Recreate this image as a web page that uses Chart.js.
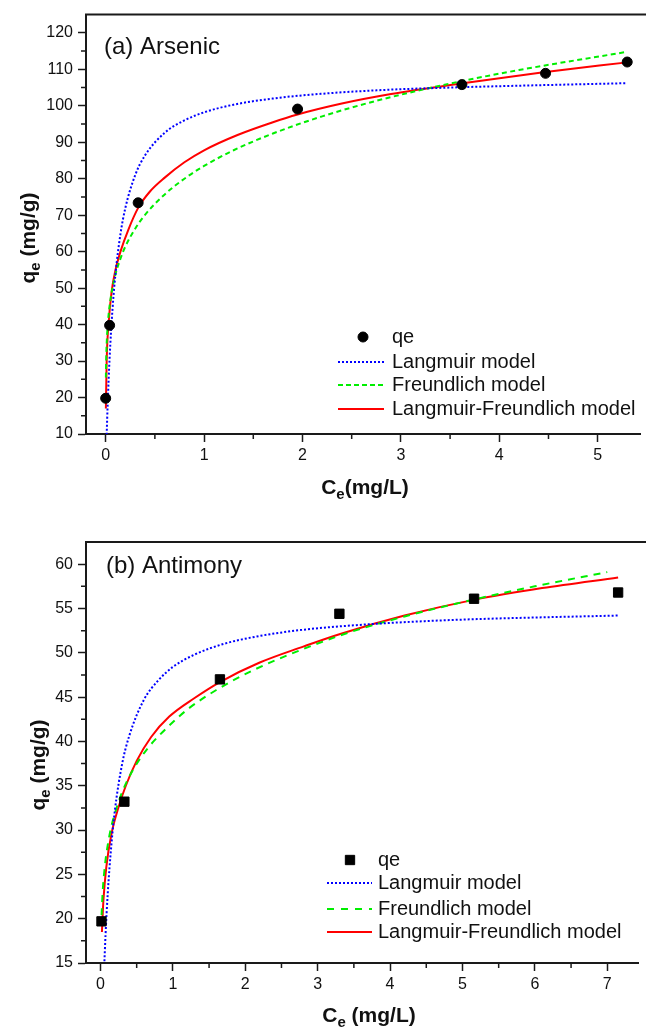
<!DOCTYPE html>
<html><head><meta charset="utf-8">
<script src="https://cdn.jsdelivr.net/npm/chart.js@4.4.1/dist/chart.umd.min.js"></script>
<style>
html,body{margin:0;padding:0;background:#fff;}
#wrap{position:relative;width:646px;height:1027px;overflow:hidden;background:#fff;}
canvas{position:absolute;left:0;}
</style></head><body>
<div id="wrap">
<canvas id="cA" width="646" height="510" style="top:0px"></canvas>
<canvas id="cB" width="646" height="517" style="top:510px"></canvas>
</div>
<script>
// ---------- (a) Arsenic ----------
const asCe = [0, 0.04, 0.33, 1.95, 3.62, 4.47, 5.3];
const asQe = [19.8, 39.8, 73.4, 99.1, 105.8, 108.9, 112.0];
const asLangC = [0.01, 0.02, 0.04, 0.07, 0.1, 0.15, 0.2, 0.3, 0.4, 0.6, 0.8, 1.0, 1.3, 1.7, 2.2, 2.8, 3.5, 4.2, 5.3];
const asLangQ = [9.8, 18.0, 30.9, 44.5, 54.0, 64.8, 72.0, 81.0, 86.4, 92.6, 96.0, 98.2, 100.3, 102.0, 103.3, 104.3, 105.0, 105.5, 106.2];
const asFreuC = [0.002, 0.005, 0.01, 0.02, 0.04, 0.07, 0.1, 0.15, 0.2, 0.3, 0.4, 0.6, 0.8, 1.0, 1.3, 1.7, 2.2, 2.8, 3.5, 4.2, 5.3];
const asFreuQ = [25.5, 30.4, 34.7, 39.6, 45.2, 50.2, 53.8, 58.1, 61.4, 66.3, 70.1, 75.7, 80.0, 83.5, 87.8, 92.4, 97.1, 101.7, 106.1, 109.8, 114.8];
const asLFC = [0.002, 0.01, 0.03, 0.06, 0.1, 0.15, 0.23, 0.33, 0.45, 0.6, 0.8, 1.0, 1.34, 1.7, 1.95, 2.4, 2.9, 3.61, 4.45, 5.3];
const asLFQ = [17, 30, 40.5, 49, 55, 60, 66, 72, 76.5, 80.3, 84.5, 87.8, 92, 95.5, 97.6, 100.6, 103.2, 106.1, 109.2, 111.9];
const asXTicks = [0, 1, 2, 3, 4, 5];
const asXMinor = [0.5, 1.5, 2.5, 3.5, 4.5];
const asYTicks = [10, 20, 30, 40, 50, 60, 70, 80, 90, 100, 110, 120];
const asYMinor = [15, 25, 35, 45, 55, 65, 75, 85, 95, 105, 115];

// ---------- (b) Antimony ----------
const sbCe = [0.014, 0.33, 1.65, 3.3, 5.16, 7.15];
const sbQe = [19.7, 33.2, 47.0, 54.4, 56.1, 56.8];
const sbLangC = [0.05, 0.07, 0.1, 0.15, 0.2, 0.3, 0.4, 0.6, 0.8, 1.0, 1.3, 1.7, 2.2, 2.8, 3.5, 4.3, 5.2, 6.1, 7.15];
const sbLangQ = [14.3, 18.2, 22.8, 28.3, 32.3, 37.5, 40.7, 44.7, 46.9, 48.4, 49.8, 51.0, 51.9, 52.6, 53.1, 53.5, 53.8, 54.0, 54.2];
const sbFreuC = [0.015, 0.03, 0.06, 0.1, 0.15, 0.2, 0.3, 0.45, 0.65, 0.9, 1.2, 1.6, 2.1, 2.7, 3.4, 4.2, 5.1, 6.0, 7.0];
const sbFreuQ = [20.4, 23.0, 25.9, 28.3, 30.4, 31.9, 34.3, 36.8, 39.2, 41.4, 43.6, 45.8, 48.0, 50.1, 52.2, 54.1, 55.9, 57.5, 59.1];
const sbLFC = [0.02, 0.04, 0.08, 0.15, 0.25, 0.35, 0.5, 0.7, 0.95, 1.3, 1.65, 2.2, 2.8, 3.3, 4.2, 5.17, 6.1, 7.15];
const sbLFQ = [18.5, 22.0, 25.8, 29.5, 32.6, 35.0, 37.8, 40.5, 42.8, 44.9, 46.7, 48.9, 50.7, 52.1, 54.2, 56.0, 57.3, 58.5];
const sbXTicks = [0, 1, 2, 3, 4, 5, 6, 7];
const sbXMinor = [0.5, 1.5, 2.5, 3.5, 4.5, 5.5, 6.5];
const sbYTicks = [15, 20, 25, 30, 35, 40, 45, 50, 55, 60];
const sbYMinor = [17.5, 22.5, 27.5, 32.5, 37.5, 42.5, 47.5, 52.5, 57.5];

const seriesLabels = ['qe', 'Langmuir model', 'Freundlich model', 'Langmuir-Freundlich model'];

// ---------- styling ----------
const FONT = '"Liberation Sans", Arial, Helvetica, sans-serif';
const AXIS = '#1a1a1a';
const TEXT = '#111111';
const BLUE = '#0000ff';
const GREEN = '#00ee00';
const RED = '#ff0000';

function pts(xs, ys) { return xs.map((x, i) => ({ x: x, y: ys[i] })); }

function drawSubText(ctx, main, sub, rest, cx, cy, rot, size) {
  const big = 'bold ' + size + 'px ' + FONT;
  const small = 'bold ' + Math.round(size * 0.72) + 'px ' + FONT;
  ctx.font = big;
  const w1 = ctx.measureText(main).width;
  const w3 = ctx.measureText(rest).width;
  ctx.font = small;
  const w2 = ctx.measureText(sub).width;
  const total = w1 + w2 + w3;
  ctx.save();
  ctx.translate(cx, cy);
  ctx.rotate(rot);
  ctx.textAlign = 'left';
  ctx.textBaseline = 'alphabetic';
  ctx.fillStyle = TEXT;
  const base = size * 0.36;
  let x = -total / 2;
  ctx.font = big; ctx.fillText(main, x, base); x += w1;
  ctx.font = small; ctx.fillText(sub, x, base + size * 0.28); x += w2;
  ctx.font = big; ctx.fillText(rest, x, base);
  ctx.restore();
}

function decoPlugin(o) {
  return {
    id: 'deco',
    afterDraw(chart) {
      const ctx = chart.ctx, a = chart.chartArea;
      const xs = chart.scales.x, ys = chart.scales.y;
      ctx.save();
      // top frame line
      ctx.strokeStyle = AXIS; ctx.lineWidth = 2;
      ctx.beginPath(); ctx.moveTo(a.left - 1, a.top); ctx.lineTo(chart.width, a.top); ctx.stroke();
      // minor ticks
      ctx.lineWidth = 1.5;
      ctx.beginPath();
      o.xMinor.forEach(v => { const p = xs.getPixelForValue(v); ctx.moveTo(p, a.bottom); ctx.lineTo(p, a.bottom + 5); });
      o.yMinor.forEach(v => { const p = ys.getPixelForValue(v); ctx.moveTo(a.left, p); ctx.lineTo(a.left - 5, p); });
      ctx.stroke();
      // panel note
      ctx.fillStyle = TEXT;
      ctx.font = '24px ' + FONT;
      ctx.textAlign = 'left'; ctx.textBaseline = 'middle';
      ctx.fillText(o.note, o.noteX, o.noteY);
      // axis titles
      drawSubText(ctx, 'C', 'e', o.xRest, o.xTitleX, o.xTitleY, 0, o.titleSize);
      drawSubText(ctx, 'q', 'e', ' (mg/g)', o.yTitleX, o.yTitleY, -Math.PI / 2, o.titleSize);
      // legend
      const L = o.legend;
      chart.data.datasets.forEach((ds, i) => {
        const y = L.rows[i];
        if (ds.showLine) {
          ctx.save();
          ctx.strokeStyle = ds.borderColor; ctx.lineWidth = ds.borderWidth;
          ctx.setLineDash(ds.legendDash || ds.borderDash || []);
          ctx.beginPath(); ctx.moveTo(L.x0, y); ctx.lineTo(L.x1, y); ctx.stroke();
          ctx.restore();
        } else {
          ctx.fillStyle = ds.backgroundColor; ctx.strokeStyle = ds.borderColor; ctx.lineWidth = ds.borderWidth;
          Chart.helpers.drawPoint(ctx, {
            pointStyle: ds.pointStyle, radius: ds.pointRadius, borderWidth: ds.borderWidth, rotation: 0
          }, L.marker, y);
        }
        ctx.fillStyle = TEXT;
        ctx.font = '20px ' + FONT;
        ctx.textAlign = 'left'; ctx.textBaseline = 'middle';
        ctx.fillText(ds.label, L.tx, y);
      });
      ctx.restore();
    }
  };
}

function build(id, o) {
  const ticksFont = { size: 16, family: FONT };
  new Chart(document.getElementById(id), {
    type: 'scatter',
    data: {
      datasets: [
        { label: seriesLabels[0], data: pts(o.ce, o.qe), showLine: false, pointStyle: o.pointStyle,
          pointRadius: o.pr, pointHoverRadius: o.pr, backgroundColor: '#000', borderColor: '#000', borderWidth: 1 },
        { label: seriesLabels[1], data: pts(o.lc, o.lq), showLine: true, borderColor: BLUE, borderWidth: 2,
          borderDash: [2, 2], pointRadius: 0, cubicInterpolationMode: 'monotone', fill: false },
        { label: seriesLabels[2], data: pts(o.fc, o.fq), showLine: true, borderColor: GREEN, borderWidth: 2,
          borderDash: o.greenDash, legendDash: o.greenLegendDash, pointRadius: 0, cubicInterpolationMode: 'monotone', fill: false },
        { label: seriesLabels[3], data: pts(o.rc, o.rq), showLine: true, borderColor: RED, borderWidth: 2,
          pointRadius: 0, cubicInterpolationMode: 'monotone', fill: false }
      ]
    },
    options: {
      responsive: false, animation: false, devicePixelRatio: 1, events: [],
      layout: { padding: { top: o.padTop, right: 0, left: 0, bottom: 0 } },
      plugins: { legend: { display: false }, tooltip: { enabled: false } },
      scales: {
        x: {
          type: 'linear', position: 'bottom', min: o.xMin, max: o.xMax,
          afterBuildTicks: s => { s.ticks = o.xTicks.map(v => ({ value: v })); },
          afterFit: s => { s.height = o.xAxisH; },
          ticks: { color: TEXT, font: ticksFont, padding: 4, autoSkip: false, maxRotation: 0, callback: v => String(v) },
          grid: { display: true, drawOnChartArea: false, drawTicks: true, tickLength: 8, tickColor: AXIS, tickWidth: 1.5 },
          border: { display: true, color: AXIS, width: 2 },
          title: { display: false }
        },
        y: {
          type: 'linear', position: 'left', min: o.yMin, max: o.yMax,
          afterBuildTicks: s => { s.ticks = o.yTicks.map(v => ({ value: v })); },
          afterFit: s => { s.width = 86; },
          ticks: { color: TEXT, font: ticksFont, padding: 5, autoSkip: false, callback: v => String(v) },
          grid: { display: true, drawOnChartArea: false, drawTicks: true, tickLength: 8, tickColor: AXIS, tickWidth: 1.5 },
          border: { display: true, color: AXIS, width: 2 },
          title: { display: false }
        }
      }
    },
    plugins: [decoPlugin(o)]
  });
}

build('cA', {
  ce: asCe, qe: asQe, lc: asLangC, lq: asLangQ, fc: asFreuC, fq: asFreuQ, rc: asLFC, rq: asLFQ,
  pointStyle: 'circle', pr: 5, greenDash: [5, 3.5], greenLegendDash: [5, 3],
  xMin: -0.2, xMax: 5.43, yMin: 10, yMax: 125, xTicks: asXTicks, yTicks: asYTicks,
  xMinor: asXMinor, yMinor: asYMinor, padTop: 13, xAxisH: 76,
  note: '(a) Arsenic', noteX: 104, noteY: 47,
  xRest: '(mg/L)', xTitleX: 365, xTitleY: 486, yTitleX: 27, yTitleY: 238, titleSize: 21,
  legend: { rows: [337, 362, 385, 409], marker: 363, x0: 338, x1: 384, tx: 392 }
});

build('cB', {
  ce: sbCe, qe: sbQe, lc: sbLangC, lq: sbLangQ, fc: sbFreuC, fq: sbFreuQ, rc: sbLFC, rq: sbLFQ,
  pointStyle: 'rect', pr: 6.6, greenDash: [7, 6], greenLegendDash: [7, 7],
  xMin: -0.2, xMax: 7.43, yMin: 15, yMax: 62.5, xTicks: sbXTicks, yTicks: sbYTicks,
  xMinor: sbXMinor, yMinor: sbYMinor, padTop: 32, xAxisH: 64,
  note: '(b) Antimony', noteX: 106, noteY: 56,
  xRest: ' (mg/L)', xTitleX: 369, xTitleY: 504, yTitleX: 37, yTitleY: 255, titleSize: 21,
  legend: { rows: [350, 373, 399, 422], marker: 350, x0: 327, x1: 372, tx: 378 }
});
</script>
</body></html>
